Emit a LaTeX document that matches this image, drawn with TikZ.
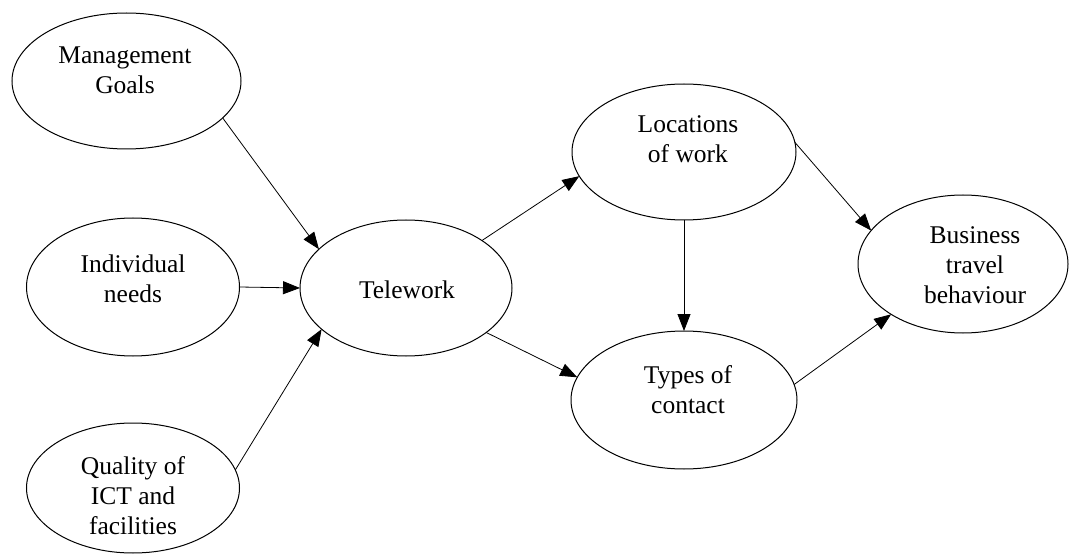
\documentclass[tikz,border=0pt]{standalone}
\usepackage{fontspec}
\setmainfont{Liberation Serif}
\usetikzlibrary{shapes.geometric,arrows.meta}
\begin{document}
\begin{tikzpicture}[x=1pt,y=-1pt,
  ell/.style={ellipse,draw,line width=1pt,inner sep=0pt,outer sep=0pt},
  lbl/.style={align=center,font=\fontsize{25.5}{30}\selectfont,inner sep=0pt},
  arr/.style={line width=0.8pt,-{Triangle[length=17pt,width=13pt]}}]
\useasboundingbox[fill=white] (0,0) rectangle (1079,556);
% ellipses
\node[ell,minimum width=229pt,minimum height=136pt] (mg) at (126.5,81) {};
\node[ell,minimum width=213pt,minimum height=138pt] (ind) at (133,287) {};
\node[ell,minimum width=213pt,minimum height=130pt] (qu) at (133,488) {};
\node[ell,minimum width=212pt,minimum height=136pt] (tw) at (406,288) {};
\node[ell,minimum width=224pt,minimum height=136pt] (loc) at (684,152) {};
\node[ell,minimum width=226pt,minimum height=138pt] (ty) at (684,400) {};
\node[ell,minimum width=210pt,minimum height=138pt] (bt) at (963,264) {};
% labels
\node[lbl] (mgt) at (125,70) {Management\\Goals};
\node[lbl] (indt) at (133,279) {Individual\\needs};
\node[lbl] (qut) at (133,496) {Quality of\\ICT and\\facilities};
\node[lbl] (twt) at (407,290) {Telework};
\node[lbl] (loct) at (688,139) {Locations\\of work};
\node[lbl] (tyt) at (688,390) {Types of\\contact};
\node[lbl] (btt) at (975,265) {Business\\travel\\behaviour};
% connectors
\draw[arr] (mg.-21) -- (tw.156.6);
\draw[arr] (ind.0) -- (tw.180);
\draw[arr] (qu.10) -- (tw.206.8);
\draw[arr] (tw.32.5) -- (loc.193);
\draw[arr] (tw.-29.7) -- (ty.168.5);
\draw[arr] (loc.south) -- (ty.north);
\draw[arr] (loc.5) -- (bt.160);
\draw[arr] (ty.8) -- (bt.215);
\end{tikzpicture}
\end{document}
